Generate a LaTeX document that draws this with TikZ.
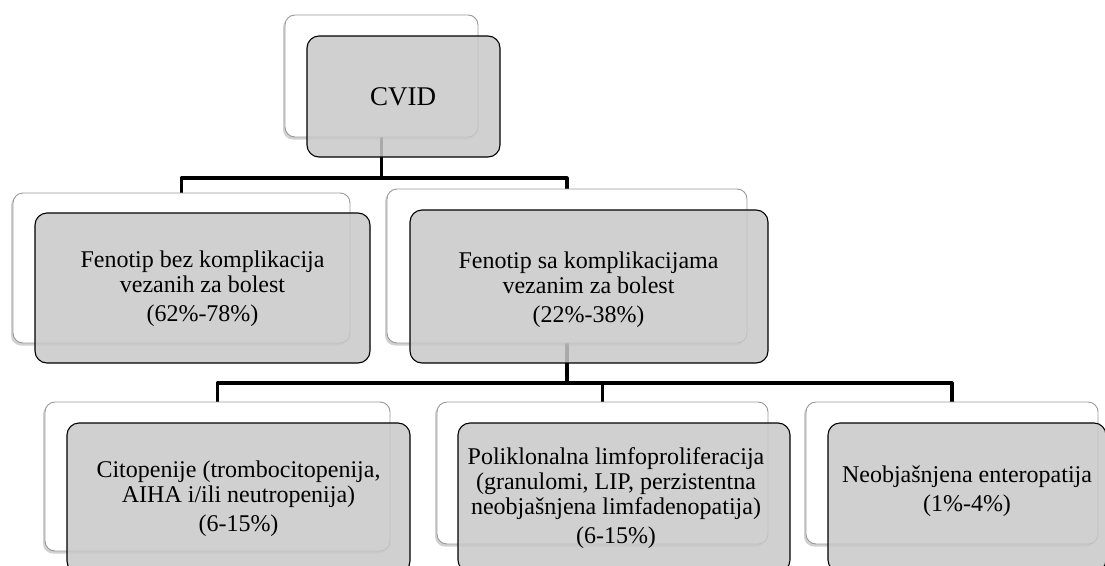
\documentclass[tikz,border=0pt]{standalone}
\usepackage{fontspec}
\setmainfont{Liberation Serif}
\usetikzlibrary{shadows}
\pgfdeclarelayer{bg}
\pgfsetlayers{bg,main}
\definecolor{boxgray}{RGB}{200,200,200}
\begin{document}
\begin{tikzpicture}[x=1pt,y=-1pt,
  backbox/.style={draw=black!40, line width=0.9pt, fill=white, rounded corners=10pt,
    drop shadow={shadow xshift=-2pt, shadow yshift=-2.5pt, opacity=0.3, fill=black!60}},
  frontbox/.style={draw=black, line width=1.1pt, fill=boxgray, fill opacity=0.85, rounded corners=12pt},
  txt/.style={align=center, font=\fontsize{24}{25}\selectfont, inner sep=0pt},
  conn/.style={line width=3.2pt, line join=round}]
\clip (0,0) rectangle (1105,565);
% back (white) boxes
\node[backbox, minimum width=193pt, minimum height=122pt] (b0) at (381.5,76) {};
\node[backbox, minimum width=337pt, minimum height=150pt] (b1) at (181.5,268) {};
\node[backbox, minimum width=360pt, minimum height=154pt] (b2) at (567,266) {};
\node[backbox, minimum width=345pt, minimum height=149pt] (b3) at (217.5,476.5) {};
\node[backbox, minimum width=331pt, minimum height=142pt] (b4) at (602.5,473) {};
\node[backbox, minimum width=292pt, minimum height=142pt] (b5) at (952,473) {};
% front (gray) boxes
\node[frontbox, minimum width=193pt, minimum height=121pt] (g0) at (403.5,96.5) {};
\node[frontbox, minimum width=335pt, minimum height=150pt] (g1) at (202.5,288) {};
\node[frontbox, minimum width=358pt, minimum height=153pt] (g2) at (589,286.5) {};
\node[frontbox, minimum width=343pt, minimum height=150pt] (g3) at (238.5,498) {};
\node[frontbox, minimum width=332pt, minimum height=149pt] (g4) at (624,497.5) {};
\node[frontbox, minimum width=278pt, minimum height=149pt] (g5) at (967,497.5) {};
% texts
\node[txt, font=\fontsize{27}{30}\selectfont] (t0) at (403,96.5) {CVID};
\node[txt] (t1) at (202.5,289) {Fenotip bez komplikacija\\vezanih za bolest\\[4pt](62\%-78\%)};
\node[txt] (t2) at (588.5,289.5) {Fenotip sa komplikacijama\\vezanim za bolest\\[4pt](22\%-38\%)};
\node[txt] (t3) at (238.5,498.5) {Citopenije (trombocitopenija,\\AIHA i/ili neutropenija)\\[4pt](6-15\%)};
\node[txt] (t4) at (616,498) {Poliklonalna limfoproliferacija\\(granulomi, LIP, perzistentna\\neobjašnjena limfadenopatija)\\[4pt](6-15\%)};
\node[txt] (t5) at (967,491) {Neobjašnjena enteropatija\\[4pt](1\%-4\%)};
% connectors
\coordinate (j1) at (381.5,178);
\coordinate (j2) at (567,383);
\begin{pgfonlayer}{bg}
\draw[conn] (b0.center) -- (j1) -| (b1.north);
\draw[conn] (j1) -| (b2.north);
\draw[conn] (b2.center) -- (j2) -| (b3.north);
\draw[conn] (j2) -| (b4.north);
\draw[conn] (j2) -| (b5.north);
\end{pgfonlayer}
\end{tikzpicture}
\end{document}
